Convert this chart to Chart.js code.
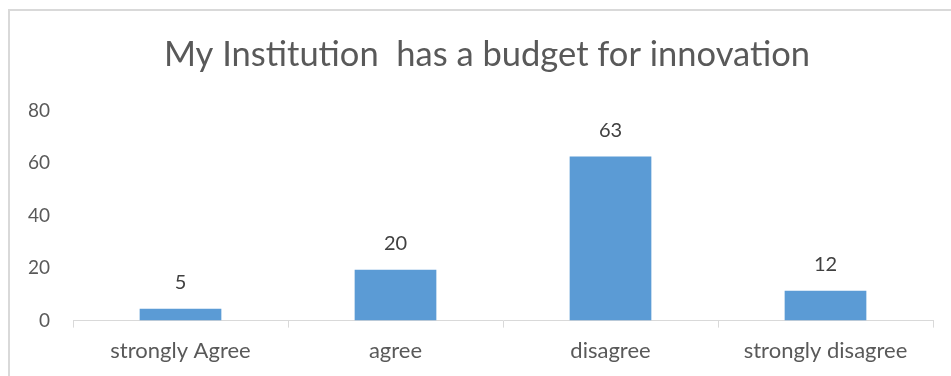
<!DOCTYPE html>
<html>
<head>
<meta charset="utf-8">
<script src="https://cdn.jsdelivr.net/npm/chart.js@4"></script>
<style>
  body { margin: 0; background: #fff; }
  #frame { position: absolute; left: 8px; top: 9px; width: 960px; height: 400px;
           border-top: 2px solid #d9d9d9; border-left: 2px solid #d9d9d9; }
  #wrap { position: absolute; left: 0; top: 0; width: 951px; height: 376px; }
</style>
</head>
<body>
<div id="frame"></div>
<div id="wrap"><canvas id="budgetChart" width="951" height="376"></canvas></div>
<script>
const categories = ['strongly Agree', 'agree', 'disagree', 'strongly disagree'];
// bar heights as drawn; labels above them show the rounded numbers
const responses = [4.5, 19.4, 62.5, 11.4];
const shownLabels = ['5', '20', '63', '12'];
const yTicks = [0, 20, 40, 60, 80];

const FONT = 'Lato, "Open Sans", sans-serif';

// simple value labels above each bar
const barLabels = {
  id: 'barLabels',
  afterDatasetsDraw(chart) {
    const ctx = chart.ctx;
    const meta = chart.getDatasetMeta(0);
    ctx.save();
    ctx.font = '20px ' + FONT;
    ctx.fillStyle = '#404040';
    ctx.textAlign = 'center';
    ctx.textBaseline = 'middle';
    meta.data.forEach((bar, i) => {
      ctx.fillText(shownLabels[i], bar.x, bar.y - 26);
    });
    ctx.restore();
  }
};

// the original title sits a bit right of the canvas centre
const titleNudge = {
  id: 'titleNudge',
  afterLayout(chart) {
    if (chart.titleBlock) chart.titleBlock.left += 41;
  }
};

new Chart(document.getElementById('budgetChart'), {
  type: 'bar',
  data: {
    labels: categories,
    datasets: [{
      data: responses,
      backgroundColor: '#5b9bd5',
      categoryPercentage: 1,
      barPercentage: 0.38,
    }],
  },
  options: {
    responsive: false,
    animation: false,
    layout: { padding: { left: 0, right: 18, top: 0, bottom: 2 } },
    plugins: {
      legend: { display: false },
      tooltip: { enabled: false },
      title: {
        display: true,
        text: 'My Institution  has a budget for innovation',
        color: '#595959',
        font: { family: FONT, size: 34.5, weight: 'normal' },
        padding: { top: 34, bottom: 35 },
      },
    },
    scales: {
      x: {
        grid: { display: true, drawOnChartArea: false, drawTicks: true, tickLength: 7, color: '#d9d9d9', offset: true },
        border: { display: true, color: '#d9d9d9', width: 1 },
        ticks: { color: '#595959', font: { family: FONT, size: 22 }, padding: 10, maxRotation: 0 },
      },
      y: {
        min: 0,
        max: 80,
        afterBuildTicks: (scale) => { scale.ticks = yTicks.map(v => ({ value: v })); },
        afterFit: (scale) => { scale.width = 73; },
        grid: { display: false, drawTicks: false },
        border: { display: false },
        ticks: { color: '#595959', font: { family: FONT, size: 19 }, padding: 23 },
      },
    },
  },
  plugins: [barLabels, titleNudge],
});
</script>
</body>
</html>
